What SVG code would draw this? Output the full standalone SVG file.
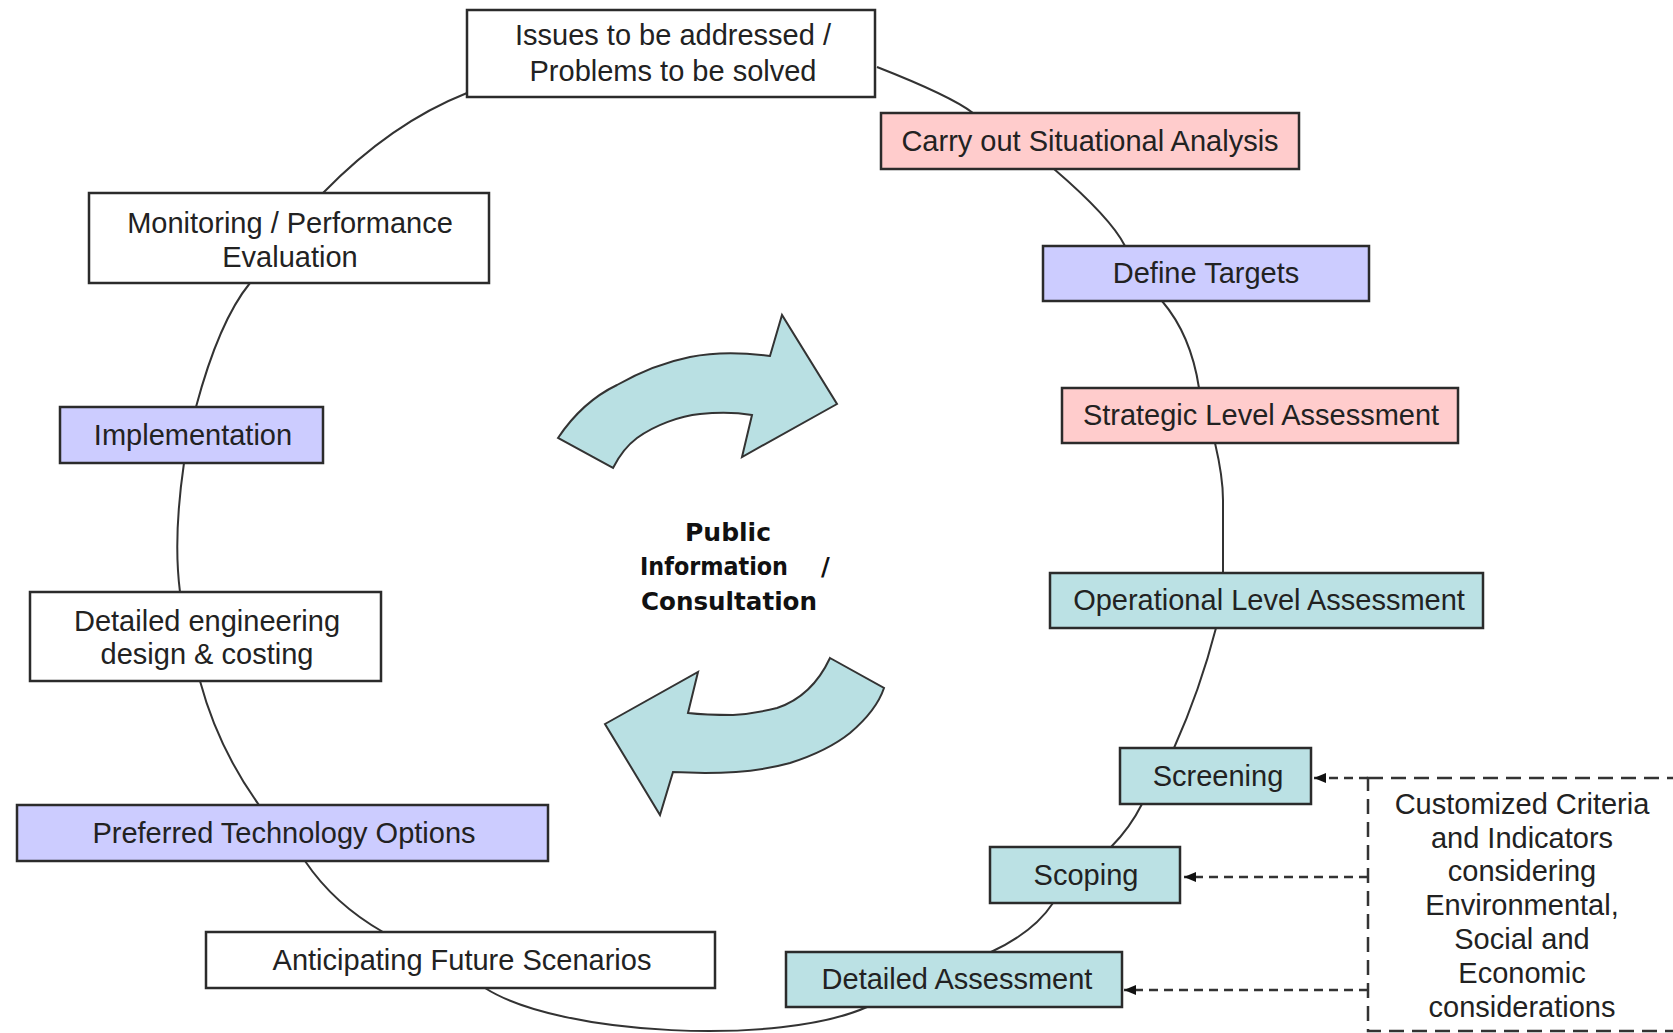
<svg xmlns="http://www.w3.org/2000/svg" width="1673" height="1033" viewBox="0 0 1673 1033">
<defs>
<marker id="ah" viewBox="0 0 12 10" refX="12" refY="5" markerWidth="12" markerHeight="10" markerUnits="userSpaceOnUse" orient="auto">
<path d="M0,0 L12,5 L0,10 z" fill="#111"/>
</marker>
<style>
.box{stroke:#2b2b2b;stroke-width:2.5}
.w{fill:#ffffff}
.p{fill:#ffcccc}
.v{fill:#ccccff}
.c{fill:#bbe1e4}
.lbl{font-family:"Liberation Sans",Arial,sans-serif;font-size:29px;fill:#222;text-anchor:middle}
.con{fill:none;stroke:#333;stroke-width:2}
.dsh{fill:none;stroke:#333;stroke-width:2.5;stroke-dasharray:9 6}
.dbox{fill:none;stroke:#333;stroke-width:2.5;stroke-dasharray:15 8}
.arr{fill:#b9e0e3;stroke:#333;stroke-width:2;stroke-linejoin:miter}
.ctr{font-family:"DejaVu Sans",Verdana,sans-serif;font-weight:bold;font-size:24px;fill:#111}
</style>
</defs>
<rect width="1673" height="1033" fill="#ffffff"/>

<g id="connectors">
<path class="con" d="M467,93 Q391,123 323,193"/>
<path class="con" d="M250,283 Q219,321 196,407"/>
<path class="con" d="M184,463 Q173,538 180,592"/>
<path class="con" d="M200,681 Q218,748 259,805"/>
<path class="con" d="M305,861 Q334,904 383,932"/>
<path class="con" d="M485,988 C560,1036 780,1046 867,1007"/>
<path class="con" d="M991,952 Q1034,932 1053,903"/>
<path class="con" d="M1111,847 Q1130,828 1142,804"/>
<path class="con" d="M1174,748 Q1200,690 1216,628"/>
<path class="con" d="M1215,443 C1219,460 1223,480 1223,500 L1223,573"/>
<path class="con" d="M1199,388 Q1191,335 1162,301"/>
<path class="con" d="M1125,246 Q1111,218 1054,169"/>
<path class="con" d="M973,113 Q951,96 877,67"/>
<path class="dsh" d="M1368,778 L1314,778" marker-end="url(#ah)"/>
<path class="dsh" d="M1368,877 L1184,877" marker-end="url(#ah)"/>
<path class="dsh" d="M1368,990 L1124,990" marker-end="url(#ah)"/>
</g>

<g id="cycle-arrows">
<path class="arr" d="M558,438 C570,420 590,398 617,385 C640,372 665,362 690,357 C710,353 740,352 770,356 L782,315 L837,404 L742,457 L752,415 C740,413 720,412 700,414 C680,416 655,425 637,438 C625,447 618,458 613,468 Z"/>
<path class="arr" d="M830,658 L884,688 C880,700 870,716 850,733 C835,745 815,755 790,763 C765,770 740,773 705,773 L673,772 L660,815 L605,724 L698,672 L688,713 C705,715 720,715 733,715 C750,714 765,711 777,708 C795,702 815,690 830,658 Z"/>
</g>

<g id="center-label">
<text class="ctr" x="685" y="541" textLength="86" lengthAdjust="spacingAndGlyphs">Public</text>
<text class="ctr" x="640" y="575" textLength="148" lengthAdjust="spacingAndGlyphs">Information</text>
<text class="ctr" x="821" y="575">/</text>
<text class="ctr" x="641" y="610" textLength="176" lengthAdjust="spacingAndGlyphs">Consultation</text>
</g>

<g id="n-issues"><rect class="box w" x="467" y="10" width="408" height="87"/><text class="lbl" x="673" y="45">Issues to be addressed /</text><text class="lbl" x="673" y="81">Problems to be solved</text></g>
<g id="n-situational"><rect class="box p" x="881" y="113" width="418" height="56"/><text class="lbl" x="1090" y="151">Carry out Situational Analysis</text></g>
<g id="n-targets"><rect class="box v" x="1043" y="246" width="326" height="55"/><text class="lbl" x="1206" y="283">Define Targets</text></g>
<g id="n-strategic"><rect class="box p" x="1062" y="388" width="396" height="55"/><text class="lbl" x="1261" y="425">Strategic Level Assessment</text></g>
<g id="n-operational"><rect class="box c" x="1050" y="573" width="433" height="55"/><text class="lbl" x="1269" y="610">Operational Level Assessment</text></g>
<g id="n-screening"><rect class="box c" x="1120" y="748" width="191" height="56"/><text class="lbl" x="1218" y="786">Screening</text></g>
<g id="n-scoping"><rect class="box c" x="990" y="847" width="190" height="56"/><text class="lbl" x="1086" y="885">Scoping</text></g>
<g id="n-detailed-assessment"><rect class="box c" x="786" y="952" width="336" height="55"/><text class="lbl" x="957" y="989">Detailed Assessment</text></g>
<g id="n-monitoring"><rect class="box w" x="89" y="193" width="400" height="90"/><text class="lbl" x="290" y="233">Monitoring / Performance</text><text class="lbl" x="290" y="267">Evaluation</text></g>
<g id="n-implementation"><rect class="box v" x="60" y="407" width="263" height="56"/><text class="lbl" x="193" y="445">Implementation</text></g>
<g id="n-engineering"><rect class="box w" x="30" y="592" width="351" height="89"/><text class="lbl" x="207" y="631">Detailed engineering</text><text class="lbl" x="207" y="664">design &amp; costing</text></g>
<g id="n-preferred"><rect class="box v" x="17" y="805" width="531" height="56"/><text class="lbl" x="284" y="843">Preferred Technology Options</text></g>
<g id="n-anticipating"><rect class="box w" x="206" y="932" width="509" height="56"/><text class="lbl" x="462" y="970">Anticipating Future Scenarios</text></g>

<g id="n-criteria">
<rect class="dbox" x="1368" y="778" width="340" height="253"/>
<text class="lbl" x="1522" y="814">Customized Criteria</text>
<text class="lbl" x="1522" y="848">and Indicators</text>
<text class="lbl" x="1522" y="881">considering</text>
<text class="lbl" x="1522" y="915">Environmental,</text>
<text class="lbl" x="1522" y="949">Social and</text>
<text class="lbl" x="1522" y="983">Economic</text>
<text class="lbl" x="1522" y="1017">considerations</text>
</g>
</svg>
